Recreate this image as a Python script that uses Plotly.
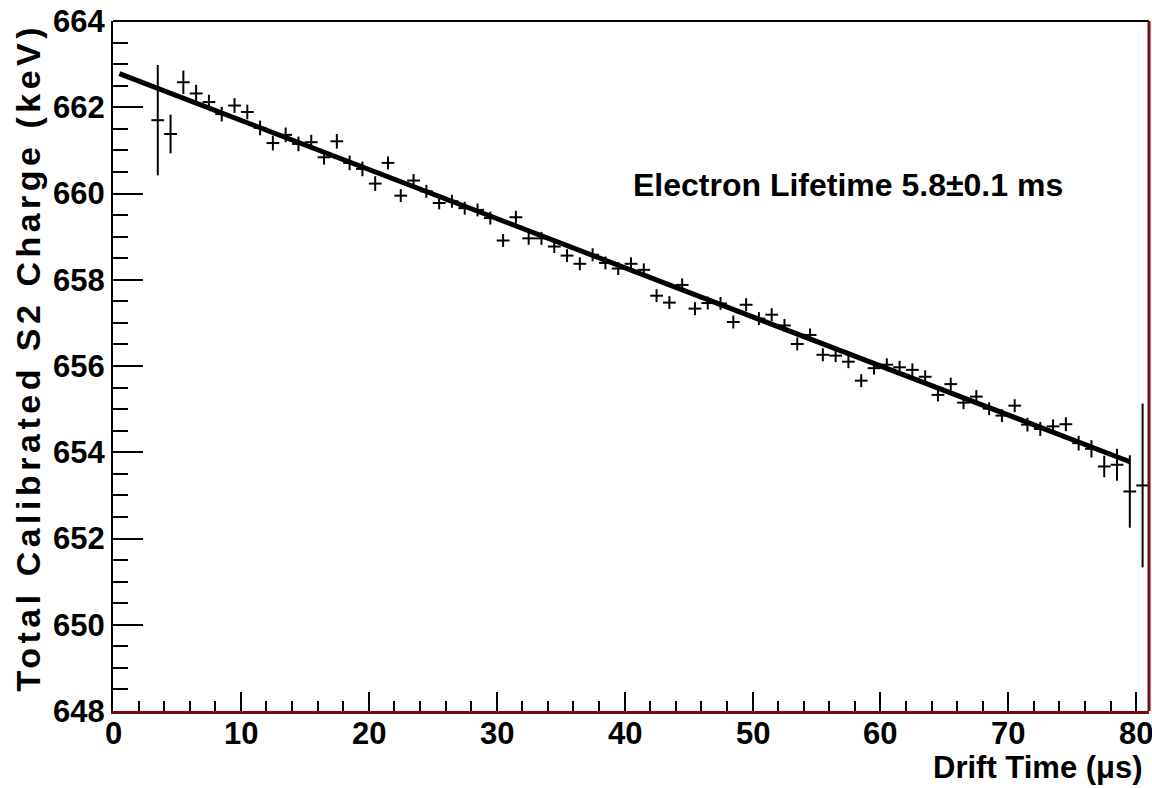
import plotly.graph_objects as go

# ---------------- data ----------------
drift_time = [3.5, 4.5, 5.5, 6.5, 7.5, 8.5, 9.5, 10.5, 11.5, 12.5, 13.5, 14.5, 15.5,
              16.5, 17.5, 18.5, 19.5, 20.5, 21.5, 22.5, 23.5, 24.5, 25.5, 26.5, 27.5,
              28.5, 29.5, 30.5, 31.5, 32.5, 33.5, 34.5, 35.5, 36.5, 37.5, 38.5, 39.5,
              40.5, 41.5, 42.5, 43.5, 44.5, 45.5, 46.5, 47.5, 48.5, 49.5, 50.5, 51.5,
              52.5, 53.5, 54.5, 55.5, 56.5, 57.5, 58.5, 59.5, 60.5, 61.5, 62.5, 63.5,
              64.5, 65.5, 66.5, 67.5, 68.5, 69.5, 70.5, 71.5, 72.5, 73.5, 74.5, 75.5,
              76.5, 77.5, 78.5, 79.5, 80.5]

charge = [661.70, 661.38, 662.58, 662.32, 662.12, 661.84, 662.04, 661.89, 661.52,
          661.17, 661.36, 661.15, 661.19, 660.84, 661.21, 660.71, 660.57, 660.23,
          660.71, 659.95, 660.30, 660.05, 659.78, 659.82, 659.66, 659.62, 659.43,
          658.91, 659.45, 658.96, 658.96, 658.77, 658.56, 658.37, 658.58, 658.39,
          658.26, 658.37, 658.23, 657.63, 657.47, 657.88, 657.33, 657.46, 657.45,
          657.02, 657.42, 657.10, 657.19, 656.94, 656.51, 656.72, 656.26, 656.24,
          656.10, 655.66, 655.95, 656.03, 655.97, 655.91, 655.75, 655.33, 655.58,
          655.15, 655.29, 655.01, 654.85, 655.08, 654.64, 654.54, 654.60, 654.65,
          654.21, 654.08, 653.67, 653.71, 653.09, 653.23]

charge_err = [1.28, 0.45, 0.27, 0.20, 0.17, 0.17, 0.17, 0.17, 0.17, 0.17, 0.17, 0.17,
              0.17, 0.17, 0.17, 0.17, 0.17, 0.17, 0.15, 0.15, 0.15, 0.15, 0.15, 0.15,
              0.15, 0.15, 0.15, 0.15, 0.15, 0.15, 0.15, 0.15, 0.15, 0.15, 0.15, 0.15,
              0.15, 0.15, 0.15, 0.15, 0.15, 0.15, 0.15, 0.15, 0.15, 0.15, 0.15, 0.15,
              0.15, 0.15, 0.15, 0.15, 0.15, 0.15, 0.15, 0.15, 0.15, 0.15, 0.15, 0.15,
              0.15, 0.15, 0.15, 0.15, 0.15, 0.15, 0.15, 0.15, 0.16, 0.16, 0.16, 0.16,
              0.17, 0.20, 0.25, 0.37, 0.84, 1.90]

bin_half_width = [0.5] * len(drift_time)

fit_x = [0.5, 79.5]
fit_y = [662.78, 653.78]

x_ticks = [0, 10, 20, 30, 40, 50, 60, 70, 80]
y_ticks = [648, 650, 652, 654, 656, 658, 660, 662, 664]

FONT = "Liberation Sans"
DARKRED = "#7a0a0a"

fig = go.Figure()

fig.add_trace(go.Scatter(
    x=drift_time, y=charge, mode="markers",
    marker=dict(size=1, color="black"),
    error_x=dict(type="data", array=bin_half_width, width=0, thickness=2, color="black"),
    error_y=dict(type="data", array=charge_err, width=0, thickness=2, color="black"),
    showlegend=False, hoverinfo="skip",
))

fig.add_trace(go.Scatter(
    x=fit_x, y=fit_y, mode="lines",
    line=dict(color="black", width=5),
    showlegend=False, hoverinfo="skip",
))

fig.update_layout(
    width=1152, height=788,
    margin=dict(l=113, r=3, t=21, b=77),
    paper_bgcolor="white", plot_bgcolor="white",
    font=dict(family=FONT, color="black"),
    xaxis=dict(
        range=[0, 81], tickvals=x_ticks, showticklabels=False,
        ticks="inside", ticklen=19, tickwidth=2, tickcolor="black",
        minor=dict(dtick=2, ticklen=10, tickwidth=2, tickcolor="black", ticks="inside"),
        showgrid=False, zeroline=False,
        showline=True, linecolor=DARKRED, linewidth=3,
    ),
    yaxis=dict(
        range=[648, 664], tickvals=y_ticks, ticktext=[str(v) for v in y_ticks],
        ticks="inside", ticklen=30, tickwidth=2, tickcolor="black",
        minor=dict(dtick=0.5, ticklen=15, tickwidth=2, tickcolor="black", ticks="inside"),
        showgrid=False, zeroline=False,
        showline=True, linecolor="black", linewidth=2,
        ticklabeloverflow="allow",
        tickfont=dict(family=FONT, size=31, weight="bold", color="black"),
    ),
)

# x tick labels placed on the x scale (closer to the axis, ROOT style)
for v in x_ticks:
    fig.add_annotation(text=str(v), xref="x", yref="paper", x=v, y=0,
                       xanchor="center", yanchor="middle", yshift=-22,
                       showarrow=False,
                       font=dict(family=FONT, size=31, weight="bold", color="black"))

# frame: top black, right dark red
fig.add_shape(type="line", xref="paper", yref="paper", x0=0, x1=1, y0=1, y1=1,
              line=dict(color="black", width=2))
fig.add_shape(type="line", xref="paper", yref="paper", x0=1, x1=1, y0=0, y1=1,
              line=dict(color=DARKRED, width=3))

# axis titles (ROOT style: aligned at the axis ends)
fig.add_annotation(text="Drift Time (μs)", xref="paper", yref="paper",
                   x=1, y=0, xanchor="right", yanchor="middle", yshift=-56, xshift=-4,
                   showarrow=False,
                   font=dict(family=FONT, size=31, weight="bold", color="black"))
fig.add_annotation(text="<span style='letter-spacing:4.5px'>Total Calibrated S2 Charge (keV)</span>",
                   xref="paper", yref="paper",
                   x=0, y=1, xanchor="center", yanchor="top", xshift=-86, yshift=0,
                   textangle=-90, showarrow=False,
                   font=dict(family=FONT, size=34, weight="bold", color="black"))

fig.add_annotation(text="Electron Lifetime 5.8±0.1 ms", xref="x", yref="y",
                   x=40.5, y=660.2, xanchor="left", yanchor="middle",
                   showarrow=False,
                   font=dict(family=FONT, size=32, weight="bold", color="black"))

fig.write_html("out.html")
